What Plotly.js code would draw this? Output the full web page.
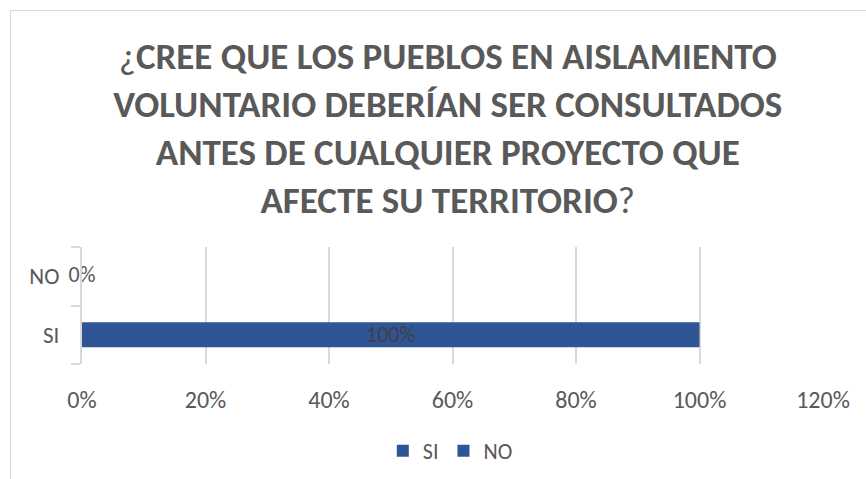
<!DOCTYPE html>
<html>
<head>
<meta charset="utf-8">
<script src="https://cdn.plot.ly/plotly-3.0.1.min.js"></script>
<style>
  html, body { margin: 0; padding: 0; background: #ffffff; }
  #wrap { position: relative; width: 866px; height: 479px; overflow: hidden; }
  #chart { position: absolute; left: 0; top: 0; width: 866px; height: 479px; }
  #frame { position: absolute; left: 10px; top: 10px; width: 900px; height: 520px;
           border-top: 1px solid #D9D9D9; border-left: 1px solid #D9D9D9; pointer-events: none; }
</style>
</head>
<body>
<div id="wrap">
  <div id="chart"></div>
  <div id="frame"></div>
</div>
<script>
// ---- data ----
const categories = ['SI', 'NO'];
const seriesNames = ['SI', 'NO'];
const values = [1.0, 0.0];
const xTickValues = [0, 0.2, 0.4, 0.6, 0.8, 1.0, 1.2];
const titleLines = [
  '¿<b>CREE QUE LOS PUEBLOS EN AISLAMIENTO</b>',
  '<b>VOLUNTARIO DEBERÍAN SER CONSULTADOS</b>',
  '<b>ANTES DE CUALQUIER PROYECTO QUE</b>',
  '<b>AFECTE SU TERRITORIO</b>?'
];

// ---- styling ----
const FONT = "Calibri, Carlito, Lato, sans-serif";
const TEXT = '#595959';
const BLUE = '#2F5597';
const GRID = '#D9D9D9';

const pct = v => Math.round(v * 100) + '%';

// bars (one per series / category)
const barTraces = seriesNames.map((name, i) => ({
  type: 'bar',
  orientation: 'h',
  name: name,
  y: [categories[i]],
  x: [values[i]],
  width: 0.43,
  marker: { color: BLUE, line: { width: 0 } },
  text: values[i] > 0 ? [pct(values[i])] : [''],
  textposition: 'inside',
  insidetextanchor: 'middle',
  constraintext: 'none',
  textfont: { family: FONT, size: 22, color: '#404040' },
  hoverinfo: 'skip'
}));

// label for zero-length bars, centred on the value
const zeroIdx = values.map((v, i) => i).filter(i => values[i] === 0);
const zeroLabels = {
  type: 'scatter',
  mode: 'text',
  showlegend: false,
  x: zeroIdx.map(i => values[i]),
  y: zeroIdx.map(i => categories[i]),
  text: zeroIdx.map(i => pct(values[i])),
  textposition: 'middle center',
  textfont: { family: FONT, size: 22, color: TEXT },
  cliponaxis: false,
  hoverinfo: 'skip'
};

const layout = {
  width: 866,
  height: 479,
  paper_bgcolor: '#ffffff',
  plot_bgcolor: '#ffffff',
  font: { family: FONT, color: TEXT, size: 23 },
  margin: { l: 82, r: 43, t: 247, b: 115, pad: 0 },
  barmode: 'overlay',
  title: {
    text: titleLines.join('<br>'),
    font: { family: FONT, size: 37, color: TEXT },
    xref: 'container', x: 0.517, xanchor: 'center',
    yref: 'container', y: 1 - 69 / 479, yanchor: 'middle'
  },
  xaxis: {
    range: [0, 1.2],
    tickvals: xTickValues,
    tickformat: '.0%',
    showgrid: true,
    gridcolor: GRID,
    gridwidth: 2,
    zeroline: false,
    showline: false,
    ticks: '',
    ticklabelstandoff: 19,
    tickfont: { family: FONT, size: 24, color: TEXT },
    fixedrange: true
  },
  yaxis: {
    type: 'category',
    categoryorder: 'array',
    categoryarray: categories,
    showgrid: false,
    zeroline: false,
    showline: true,
    linecolor: GRID,
    linewidth: 2,
    ticks: 'outside',
    tickson: 'boundaries',
    ticklen: 9,
    tickwidth: 2,
    tickcolor: GRID,
    ticklabelstandoff: 16,
    tickfont: { family: FONT, size: 23, color: TEXT },
    fixedrange: true
  },
  showlegend: true,
  legend: {
    orientation: 'h',
    xref: 'container', x: 0.52, xanchor: 'center',
    yref: 'container', y: 1 - 451 / 479, yanchor: 'middle',
    font: { family: FONT, size: 22, color: TEXT },
    itemwidth: 30,
    traceorder: 'normal'
  }
};

Plotly.newPlot('chart', barTraces.concat([zeroLabels]), layout, { displayModeBar: false, staticPlot: true });
</script>
</body>
</html>
